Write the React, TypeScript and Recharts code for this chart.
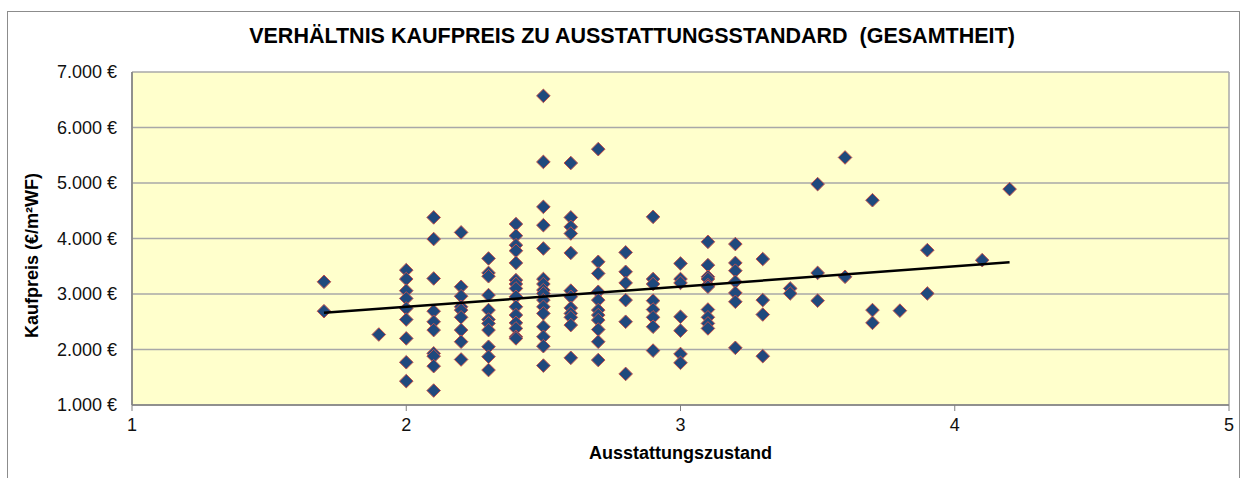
import React from 'react';
import { ScatterChart, Scatter, XAxis, YAxis, CartesianGrid, Label } from 'recharts';

const title = 'VERHÄLTNIS KAUFPREIS ZU AUSSTATTUNGSSTANDARD  (GESAMTHEIT)';
const xAxisTitle = 'Ausstattungszustand';
const yAxisTitle = 'Kaufpreis (€/m²WF)';

const ausstattung = [1.7, 1.9, 2.0, 2.1, 2.2, 2.3, 2.4, 2.5, 2.6, 2.7, 2.8, 2.9, 3.0, 3.1, 3.2, 3.3, 3.4, 3.5, 3.6, 3.7, 3.8, 3.9, 4.1, 4.2];
const kaufpreise = [
  [3220, 2690],
  [2270],
  [3430, 3270, 3060, 2920, 2740, 2540, 2200, 1770, 1430],
  [4380, 3990, 3280, 2690, 2500, 2350, 1930, 1880, 1700, 1260],
  [4110, 3130, 2960, 2770, 2710, 2580, 2350, 2140, 1820],
  [3640, 3380, 3320, 2980, 2710, 2540, 2470, 2350, 2050, 1870, 1630],
  [4260, 4050, 3880, 3780, 3560, 3250, 3180, 3100, 2950, 2770, 2620, 2480, 2380, 2230, 2200],
  [6570, 5380, 4570, 4240, 3820, 3270, 3180, 3070, 3010, 2890, 2770, 2650, 2410, 2230, 2060, 1710],
  [5360, 4380, 4210, 4090, 3740, 3060, 2950, 2750, 2650, 2580, 2440, 1850],
  [5610, 3580, 3370, 3040, 2890, 2710, 2620, 2530, 2360, 2140, 1810],
  [3750, 3400, 3200, 2890, 2500, 1560],
  [4390, 3270, 3180, 2880, 2720, 2580, 2410, 1980],
  [3550, 3270, 3200, 2590, 2340, 1920, 1760],
  [3940, 3520, 3310, 3270, 3160, 3130, 2720, 2580, 2470, 2380],
  [3900, 3560, 3420, 3220, 3020, 2860, 2030],
  [3630, 2890, 2630, 1880],
  [3100, 3010],
  [4980, 3380, 2880],
  [5460, 3310],
  [4690, 2710, 2480],
  [2700],
  [3790, 3010],
  [3610],
  [4890],
];

const trendX = [1.7, 4.2];
const trendY = [2660, 3570];

const xTicks = [1, 2, 3, 4, 5];
const yTicks = [1000, 2000, 3000, 4000, 5000, 6000, 7000];

const points = ausstattung.flatMap((x, i) => kaufpreise[i].map((y) => ({ x, y })));
const trend = trendX.map((x, i) => ({ x, y: trendY[i] }));

const fmtEuro = (v: number) => {
  const t = Math.floor(v / 1000);
  const r = String(v % 1000).padStart(3, '0');
  return `${t}.${r} €`;
};

const FONT = '"Liberation Sans", Arial, sans-serif';

const Diamond = (props: any) => {
  const { cx, cy } = props;
  if (cx == null || cy == null) return <g />;
  const r = 6.8;
  return (
    <polygon
      points={`${cx},${cy - r} ${cx + r},${cy} ${cx},${cy + r} ${cx - r},${cy}`}
      fill="#1F497D"
      stroke="#C0504D"
      strokeWidth={1}
    />
  );
};

const NoShape = () => <g />;

export default function App() {
  return (
    <div style={{ position: 'absolute', left: 0, top: 0, width: 1255, height: 478, overflow: 'hidden', background: '#fff' }}>
      <div
        style={{
          position: 'absolute',
          left: 7,
          top: 11,
          width: 1233,
          height: 480,
          boxSizing: 'border-box',
          border: '1px solid #8c8c8c',
        }}
      />
      <div
        style={{
          position: 'absolute',
          left: 632,
          top: 24,
          transform: 'translateX(-50%)',
          whiteSpace: 'pre',
          fontFamily: FONT,
          fontWeight: 'bold',
          fontSize: 21.5,
          color: '#000',
        }}
      >
        {title}
      </div>
      <div style={{ position: 'absolute', left: 0, top: 0 }}>
        <ScatterChart width={1255} height={478} margin={{ top: 72, right: 26, bottom: 33, left: 12 }}>
          <CartesianGrid
            fill="#FFFFCC"
            stroke="#A8A8A8"
            strokeWidth={1.5}
            horizontal={true}
            vertical={true}
            verticalCoordinatesGenerator={({ offset }: any) => [offset.left, offset.left + offset.width]}
          />
          <XAxis
            type="number"
            dataKey="x"
            domain={[1, 5]}
            ticks={xTicks}
            interval={0}
            height={40}
            tickSize={6}
            tickMargin={7}
            axisLine={{ stroke: '#808080', strokeWidth: 1.5 }}
            tickLine={{ stroke: '#808080' }}
            tick={{ fontFamily: FONT, fontSize: 18, fill: '#111' }}
          >
            <Label
              content={({ viewBox }: any) => (
                <text
                  x={viewBox.x + viewBox.width / 2}
                  y={viewBox.y + 54}
                  textAnchor="middle"
                  fontFamily={FONT}
                  fontWeight="bold"
                  fontSize={18}
                  fill="#000"
                >
                  {xAxisTitle}
                </text>
              )}
            />
          </XAxis>
          <YAxis
            type="number"
            dataKey="y"
            domain={[1000, 7000]}
            ticks={yTicks}
            interval={0}
            width={120}
            tickSize={6}
            tickMargin={9}
            tickLine={false}
            tickFormatter={fmtEuro}
            axisLine={{ stroke: '#808080', strokeWidth: 1.5 }}
            tick={{ fontFamily: FONT, fontSize: 18, fill: '#111' }}
          >
            <Label
              content={({ viewBox }: any) => {
                const cx = viewBox.x + 20;
                const cy = viewBox.y + viewBox.height / 2 + 17;
                return (
                  <text
                    x={cx}
                    y={cy}
                    transform={`rotate(-90, ${cx}, ${cy})`}
                    textAnchor="middle"
                    dominantBaseline="central"
                    fontFamily={FONT}
                    fontWeight="bold"
                    fontSize={18}
                    fill="#000"
                  >
                    {yAxisTitle}
                  </text>
                );
              }}
            />
          </YAxis>
          <Scatter data={points} shape={Diamond} isAnimationActive={false} />
          <Scatter
            data={trend}
            shape={NoShape}
            line={{ stroke: '#000', strokeWidth: 2.5 }}
            isAnimationActive={false}
          />
        </ScatterChart>
      </div>
    </div>
  );
}
